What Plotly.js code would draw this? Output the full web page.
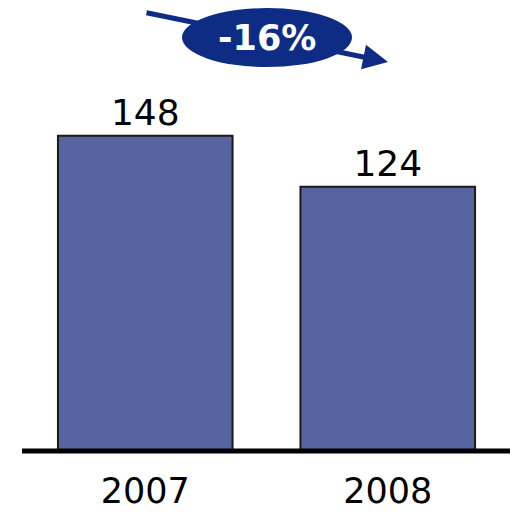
<!DOCTYPE html>
<html>
<head>
<meta charset="utf-8">
<script src="https://cdn.plot.ly/plotly-3.0.1.min.js"></script>
<style>html,body{margin:0;padding:0;background:#fff;}#chart{width:515px;height:514px;}</style>
</head>
<body>
<div id="chart"></div>
<script>
const years = ['2007', '2008'];
const values = [148, 124];
const changeLabel = '-16%';

const trace = {
  type: 'bar',
  x: years,
  y: values,
  text: values.map(String),
  textposition: 'outside',
  textfont: {family: 'DejaVu Sans', size: 36, color: '#000'},
  cliponaxis: false,
  width: 0.72,
  marker: {color: '#5664A1', line: {color: '#1a1a1a', width: 2}},
  hoverinfo: 'none'
};

const layout = {
  width: 515, height: 514,
  margin: {l: 24, r: 6, t: 0, b: 63},
  paper_bgcolor: '#fff', plot_bgcolor: '#fff',
  showlegend: false,
  font: {family: 'DejaVu Sans', color: '#000'},
  xaxis: {
    type: 'category', range: [-0.5, 1.5],
    showgrid: false, zeroline: false, showline: false, ticks: '',
    tickfont: {family: 'DejaVu Sans', size: 35, color: '#000'},
    ticklabelstandoff: 16
  },
  yaxis: {
    range: [0, 211.7], visible: false, showgrid: false, zeroline: false
  },
  shapes: [
    {type: 'circle', xref: 'paper', yref: 'paper', x0: 0.3258, x1: 0.6763, y0: 0.8514, y1: 0.982,
     fillcolor: '#0E2C84', line: {width: 0}, layer: 'above'},
    {type: 'line', xref: 'paper', yref: 'paper', x0: -0.004, x1: 1.002, y0: 0, y1: 0,
     line: {color: '#000', width: 5}, layer: 'above'}
  ],
  annotations: [
    {xref: 'paper', yref: 'paper', x: 0.7505, y: 0.8625, text: ' ', showarrow: true,
     axref: 'pixel', ayref: 'pixel', ax: -245, ay: -50,
     arrowhead: 2, arrowsize: 1, arrowwidth: 5, arrowcolor: '#0E2C84', standoff: 0, startstandoff: 0},
    {xref: 'paper', yref: 'paper', x: 0.501, y: 0.9157, text: '<b>' + changeLabel + '</b>', showarrow: false,
     font: {family: 'DejaVu Sans', size: 35, color: '#fff'}, xanchor: 'center', yanchor: 'middle'}
  ]
};

Plotly.newPlot('chart', [trace], layout, {displayModeBar: false, staticPlot: true});
</script>
</body>
</html>
